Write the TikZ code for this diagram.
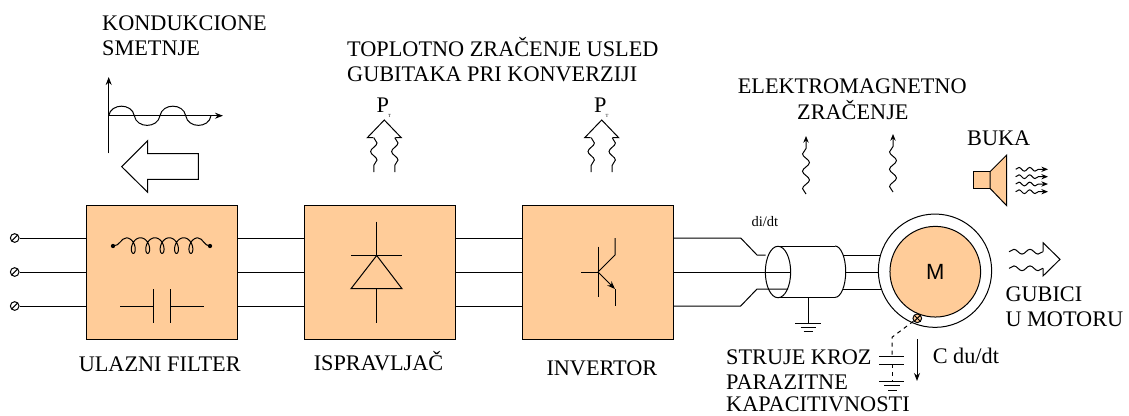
\documentclass[tikz,border=0pt]{standalone}
\usepackage{fontspec}
\setmainfont{Liberation Serif}
\newfontfamily\motorfont{Liberation Sans}
\usetikzlibrary{positioning,arrows.meta,decorations.pathmorphing,shapes.geometric}
\definecolor{boxorange}{HTML}{FFCC99}

\begin{document}
\begin{tikzpicture}[
    x=0.75pt, y=-0.75pt,
    line width=0.75pt,
    node distance=49.5pt,
    block/.style={rectangle, draw, fill=boxorange, inner sep=0pt, minimum width=113.25pt, minimum height=100.5pt},
    lbl/.style={anchor=base west, inner sep=0pt, align=left, font=\fontsize{16.7}{18.75}\selectfont},
    terminal/.style={circle, draw, inner sep=0pt, minimum size=6.5pt, path picture={\draw (path picture bounding box.south west) -- (path picture bounding box.north east);}},
    crossed/.style={circle, draw, fill=boxorange, inner sep=0pt, minimum size=6.5pt, path picture={\draw (path picture bounding box.south west) -- (path picture bounding box.north east); \draw (path picture bounding box.north west) -- (path picture bounding box.south east);}},
    wave/.style={decorate, decoration={snake, amplitude=2.4pt, segment length=12.75pt}},
    emwave/.style={-{Stealth[length=5pt,width=4pt]}, decorate, decoration={snake, amplitude=2.6pt, segment length=13pt, post length=5pt}},
    soundwave/.style={-{Stealth[length=5pt,width=4pt]}, decorate, decoration={snake, amplitude=1.4pt, segment length=8pt, post length=4pt}},
    tip/.style={-{Stealth[length=6pt,width=4.5pt]}}
]
\useasboundingbox (0,0) rectangle (1129,415);

% Blocks
\node[block] (filter) at (161.5,272) {};
\node[block, right=of filter] (rectifier) {};
\node[block, right=of rectifier] (inverter) {};

% Supply and links between blocks
\foreach \row/\yy in {a/238,b/272,c/306} {
  \node[terminal] (in\row) at (14.7,\yy) {};
  \draw (in\row) -- (in\row -| filter.west);
  \draw (filter.east |- in\row) -- (rectifier.west |- in\row);
  \draw (rectifier.east |- in\row) -- (inverter.west |- in\row);
}

% Inductor
\coordinate (coilL) at (113,246);
\coordinate (coilR) at (210,246);
\fill (coilL) circle (1.6pt) (coilR) circle (1.6pt);
\draw (coilL) .. controls (120,246) and (121,238) .. (126.1,238);
\draw[samples=240, domain=0:1800, smooth] plot ({126.1+\x/360*14.4+5*sin(\x)},{245.6-7.8*cos(\x)});
\draw (198.1,238) .. controls (203,238) and (204,246) .. (coilR);

% Capacitor
\draw (120,306) -- (153.5,306) (153.5,289) -- (153.5,323);
\draw (170.5,289) -- (170.5,323) (170.5,306) -- (204,306);

% Diode
\draw (376.7,221.7) -- (376.7,255.5) (351,255.5) -- (402,255.5);
\draw (376.7,255.5) -- (402,288.7) -- (351,288.7) -- cycle;
\draw (376.7,288.7) -- (376.7,322.7);

% Transistor
\draw (581,272) -- (598,272) (598,246.7) -- (598,297);
\draw (615,238) -- (615,255) -- (598,272);
\draw[tip] (598,272) -- (615,289);
\draw (615,289) -- (615,306);

% Motor
\node[circle, draw, inner sep=0pt, minimum size=85pt] (stator) at (935,270.7) {};
\node[circle, draw, fill=boxorange, inner sep=0pt, minimum size=68pt, font=\motorfont\fontsize{16.5}{18}\selectfont] (rotor) at (935.3,271.7) {M};
\node[crossed] (bearing) at (917.3,318.3) {};

% Cable
\coordinate (cabletop) at (778,246);
\coordinate (cablebot) at (778,297.4);
\draw (835,246) -- (cabletop) (cablebot) -- (835,297.4);
\draw (835,246) arc[start angle=-90, end angle=90, x radius=10.7, y radius=25.7];
\node[ellipse, draw, inner sep=0pt, minimum width=19pt, minimum height=38.6pt] (cablemouth) at (778,272) {};

% Cable screen earth
\coordinate (earth) at (808,323);
\draw (808,297.4) -- (earth);
\draw (795,323) -- (821,323) (800.5,327) -- (815.5,327) (803.5,331) -- (812.5,331);

% Leads to motor
\draw (inverter.east |- ina) -- (740.7,238) -- (757,255) -- (765.5,255);
\draw (inverter.east |- inb) -- (790.5,272);
\draw (inverter.east |- inc) -- (740.7,306) -- (757,289) -- (788,289);
\draw (843,255) -- (880.5,255);
\draw (845.7,272) -- (878.3,272);
\draw (843,289) -- (880.5,289);

% Parasitic path
\coordinate (parasitic) at (892,337.3);
\coordinate (plateA) at (892,356);
\coordinate (plateB) at (892,364.3);
\coordinate (gnd) at (892,381);
\draw[dashed] (bearing) -- (parasitic) -- (plateA);
\draw[dashed] (plateB) -- (gnd);
\draw (879,356) -- (904,356) (879,364.3) -- (904,364.3);
\draw (879,381) -- (904,381) (884,385.5) -- (900,385.5) (888,390) -- (897,390);
\draw[tip] (917,339) -- (917,381);

% Conducted noise
\draw[tip] (108.7,153.3) -- (108.7,77);
\draw[tip] (108.7,115.7) -- (223,115.7);
\draw (108.7,115.7) .. controls (111,103) and (132,103) .. (134.3,115.7)
      .. controls (136.6,128.6) and (157.7,128.6) .. (160,115.7)
      .. controls (162.3,103) and (183.4,103) .. (185.7,115.7)
      .. controls (188,128.6) and (209,128.6) .. (211,115.7);
\draw (121.7,166.7) -- (147.7,140.7) -- (147.7,153.7) -- (198.3,153.7) -- (198.3,179.3) -- (147.7,179.3) -- (147.7,192.3) -- cycle;

% Heat
\foreach \cx in {384.3,601.7} {
  \draw (\cx-11,137.7) -- (\cx-17,137.7) -- (\cx,120) -- (\cx+17,137.7) -- (\cx+11,137.7);
  \draw[wave] (\cx-10.5,137.7) -- (\cx-10.5,172);
  \draw[wave] (\cx+10.5,137.7) -- (\cx+10.5,172);
}

% Radiation
\draw[emwave] (806,194) -- (806,136);
\draw[emwave] (893,192) -- (893,134);

% Speaker
\draw[fill=boxorange] (973.3,171.7) rectangle (990,188.3);
\draw[fill=boxorange] (990,171.7) -- (1006.7,155) -- (1006.7,205.7) -- (990,188.3) -- cycle;
\foreach \yy in {169.3,176.7,184,191.7} {
  \draw[soundwave] (1015.7,\yy) -- (1048,\yy);
}

% Motor losses
\draw[wave, decoration={amplitude=1.8pt, segment length=12pt}] (1009,251.7) -- (1043,251.7);
\draw[wave, decoration={amplitude=1.8pt, segment length=12pt}] (1009,268.3) -- (1043,268.3);
\draw (1043,251.7) -- (1043,242.7) -- (1060,259.3) -- (1043,276) -- (1043,268.3);

% Labels
\node[lbl] (konduk) at (101.7,30.7) {KONDUKCIONE};
\node[lbl] (smetnje) at (101.7,55.7) {SMETNJE};
\node[lbl] (toplotno) at (346.7,56.7) {TOPLOTNO ZRAČENJE USLED};
\node[lbl] (gubitaka) at (346.7,81) {GUBITAKA PRI KONVERZIJI};
\node[lbl] (pa) at (376,112) {P};
\node[lbl] (pb) at (593.5,112) {P};
\node[lbl, font=\fontsize{3.5}{4}\selectfont] (ta) at (387.5,117) {T};
\node[lbl, font=\fontsize{3.5}{4}\selectfont] (tb) at (605,117) {T};
\node[lbl] (elektro) at (737.3,93.3) {ELEKTROMAGNETNO};
\node[lbl] (zracenje) at (796.7,119.3) {ZRAČENJE};
\node[lbl] (buka) at (966.7,145) {BUKA};
\node[lbl, font=\fontsize{10.9}{12}\selectfont] (didt) at (751,226) {di/dt};
\node[lbl] (ulazni) at (78.3,371.7) {ULAZNI FILTER};
\node[lbl] (ispravljac) at (313.3,370) {ISPRAVLJAČ};
\node[lbl] (invertor) at (546,375) {INVERTOR};
\node[lbl] (gubici) at (1005,301.7) {GUBICI};
\node[lbl] (umotoru) at (1005,326) {U MOTORU};
\node[lbl] (struje) at (725.7,364) {STRUJE KROZ};
\node[lbl] (parazitne) at (725.7,389) {PARAZITNE};
\node[lbl] (kapac) at (725.7,411.5) {KAPACITIVNOSTI};
\node[lbl] (cdudt) at (932.3,363) {C du/dt};

\end{tikzpicture}
\end{document}
